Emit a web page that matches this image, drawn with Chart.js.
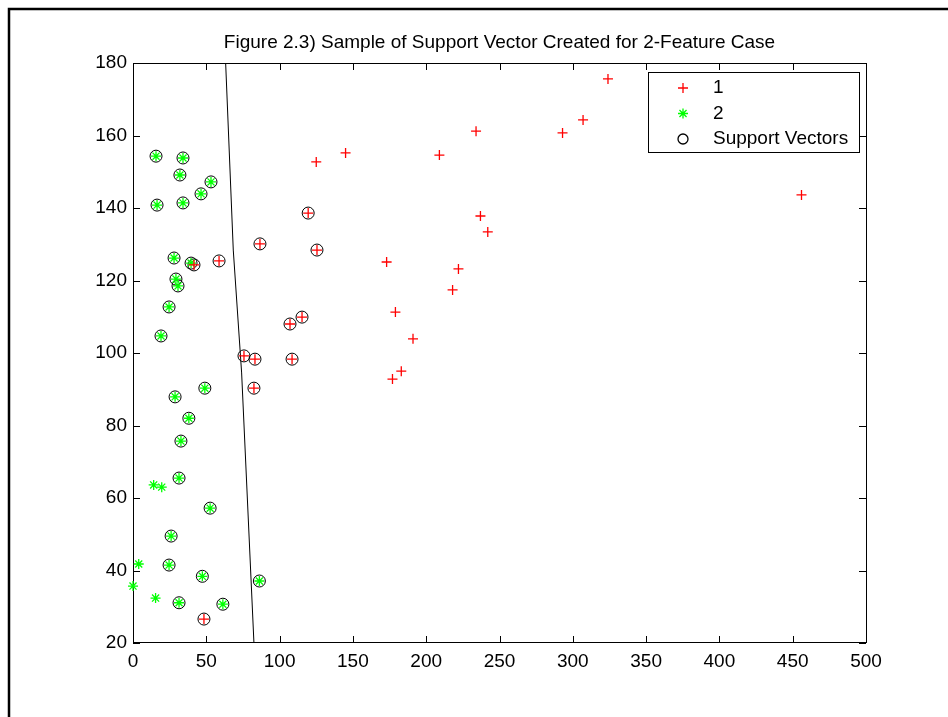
<!DOCTYPE html>
<html>
<head>
<meta charset="utf-8">
<script src="https://cdn.jsdelivr.net/npm/chart.js@4.4.0/dist/chart.umd.min.js"></script>
<style>
  body { margin: 0; background: #fff; }
  canvas { display: block; }
</style>
</head>
<body>
<canvas id="chart" width="948" height="717"></canvas>
<script>
const titleText = "Figure 2.3) Sample of Support Vector Created for 2-Feature Case"
const legendLabels = ["1", "2", "Support Vectors"]

const xTickValues = [0, 50, 100, 150, 200, 250, 300, 350, 400, 450, 500]
const yTickValues = [20, 40, 60, 80, 100, 120, 140, 160, 180]

// class 1 (red +)
const class1X = [324, 307, 293, 456, 234, 145, 125, 209, 237, 242, 173, 222, 218, 179, 191, 183, 177,
  119.5, 125.5, 115.3, 107.1, 108.5, 86.6, 41.6, 58.7, 75.7, 83.2, 82.5, 48.4]
const class1Y = [175.6, 164.3, 160.7, 143.6, 161.2, 155.2, 152.7, 154.6, 137.8, 133.4, 125.1, 123.2, 117.4, 111.3, 103.9, 95, 92.8,
  138.6, 128.4, 109.9, 108, 98.3, 130.1, 124.3, 125.4, 99.2, 98.3, 90.3, 26.6]

// class 2 (green *)
const class2X = [15.7, 34.1, 32, 53.2, 46.4, 16.4, 34.1, 28, 39.6, 29.3, 30.7, 24.6, 19.1, 49, 28.7, 38.1, 32.7,
  31.4, 52.6, 26, 24.6, 47.3, 86.2, 31.4, 61.3, 14.1, 19.6, 3.9, 0, 15.4]
const class2Y = [154.3, 153.8, 149.1, 147.2, 143.9, 140.8, 141.4, 126.2, 124.8, 120.4, 118.5, 112.7, 104.7, 90.3, 87.9, 82, 75.7,
  65.5, 57.2, 49.5, 41.5, 38.4, 37.1, 31.1, 30.7, 63.6, 63, 41.8, 35.7, 32.4]

// support vectors (black circles)
const supportX = [119.5, 125.5, 115.3, 107.1, 108.5, 86.6, 41.6, 58.7, 75.7, 83.2, 82.5, 48.4,
  15.7, 34.1, 32, 53.2, 46.4, 16.4, 34.1, 28, 39.6, 29.3, 30.7, 24.6, 19.1, 49, 28.7, 38.1, 32.7,
  31.4, 52.6, 26, 24.6, 47.3, 86.2, 31.4, 61.3]
const supportY = [138.6, 128.4, 109.9, 108, 98.3, 130.1, 124.3, 125.4, 99.2, 98.3, 90.3, 26.6,
  154.3, 153.8, 149.1, 147.2, 143.9, 140.8, 141.4, 126.2, 124.8, 120.4, 118.5, 112.7, 104.7, 90.3, 87.9, 82, 75.7,
  65.5, 57.2, 49.5, 41.5, 38.4, 37.1, 31.1, 30.7]

// separating boundary
const boundaryX = [63.2, 68.4, 74.1, 82.5]
const boundaryY = [180, 128.4, 94.5, 20]

const FONT = "'Liberation Sans', Arial, sans-serif"

function toPoints(xs, ys) {
  return xs.map((x, i) => ({ x: x, y: ys[i] }))
}

const legendStyles = [
  { pointStyle: "cross", color: "#ff0000" },
  { pointStyle: "star", color: "#00ff00" },
  { pointStyle: "circle", color: "#000000" }
]

const matlabFrame = {
  id: "matlabFrame",
  beforeDraw(chart) {
    const ctx = chart.ctx
    ctx.save()
    ctx.fillStyle = "white"
    ctx.fillRect(0, 0, chart.width, chart.height)
    ctx.strokeStyle = "black"
    ctx.lineWidth = 2.5
    ctx.strokeRect(9, 9, chart.width + 40, chart.height + 40)
    ctx.restore()
  },
  beforeDatasetsDraw(chart) {
    const ctx = chart.ctx
    const a = chart.chartArea
    const xs = chart.scales.x
    const ys = chart.scales.y
    const tick = 7
    ctx.save()
    ctx.strokeStyle = "black"
    ctx.lineWidth = 1
    ctx.beginPath()
    xs.ticks.forEach((t) => {
      const px = Math.round(xs.getPixelForValue(t.value)) + 0.5
      ctx.moveTo(px, a.bottom); ctx.lineTo(px, a.bottom - tick)
      ctx.moveTo(px, a.top); ctx.lineTo(px, a.top + tick)
    })
    ys.ticks.forEach((t) => {
      const py = Math.round(ys.getPixelForValue(t.value)) + 0.5
      ctx.moveTo(a.left, py); ctx.lineTo(a.left + tick, py)
      ctx.moveTo(a.right, py); ctx.lineTo(a.right - tick, py)
    })
    ctx.stroke()
    ctx.strokeRect(a.left + 0.5, a.top + 0.5, a.right - a.left, a.bottom - a.top - 1)
    ctx.restore()
  },
  afterDraw(chart) {
    const ctx = chart.ctx
    const a = chart.chartArea
    ctx.save()
    // title
    ctx.fillStyle = "black"
    ctx.font = "19px " + FONT
    ctx.textAlign = "center"
    ctx.textBaseline = "middle"
    ctx.fillText(titleText, (a.left + a.right) / 2, 43)
    // legend
    const bw = 211, bh = 80
    const bx = a.right - 7 - bw, by = a.top + 9
    ctx.fillStyle = "white"
    ctx.fillRect(bx, by, bw, bh)
    ctx.strokeStyle = "black"
    ctx.lineWidth = 1
    ctx.strokeRect(bx + 0.5, by + 0.5, bw, bh)
    legendLabels.forEach((label, i) => {
      const cy = by + 16 + i * 25.5
      const st = legendStyles[i]
      ctx.strokeStyle = st.color
      ctx.fillStyle = "rgba(0,0,0,0)"
      ctx.lineWidth = 1.3
      Chart.helpers.drawPoint(ctx, { pointStyle: st.pointStyle, radius: 5, borderWidth: 1.3, rotation: 0 }, bx + 35, cy)
      ctx.fillStyle = "black"
      ctx.textAlign = "left"
      ctx.textBaseline = "middle"
      ctx.fillText(label, bx + 65, cy)
    })
    ctx.restore()
  }
}

function chartConfig() {
  const canvas = document.querySelector("#chart")
  const data = {
    datasets: [
      {
        label: legendLabels[0],
        data: toPoints(class1X, class1Y),
        pointStyle: "cross",
        pointRadius: 5,
        borderColor: "#ff0000",
        borderWidth: 1.3,
        backgroundColor: "#ff0000",
        clip: false
      },
      {
        label: legendLabels[1],
        data: toPoints(class2X, class2Y),
        pointStyle: "star",
        pointRadius: 5,
        borderColor: "#00ff00",
        borderWidth: 1.3,
        backgroundColor: "#00ff00",
        clip: false
      },
      {
        label: legendLabels[2],
        data: toPoints(supportX, supportY),
        pointStyle: "circle",
        pointRadius: 6,
        borderColor: "#000000",
        borderWidth: 1,
        backgroundColor: "rgba(0,0,0,0)",
        clip: false
      },
      {
        label: "boundary",
        type: "line",
        data: toPoints(boundaryX, boundaryY),
        showLine: true,
        pointRadius: 0,
        borderColor: "#000000",
        borderWidth: 1,
        fill: false,
        tension: 0
      }
    ]
  }
  const config = {
    type: "scatter",
    data: data,
    options: {
      responsive: false,
      animation: false,
      events: [],
      layout: {
        padding: { left: 20, right: 82, top: 63, bottom: 34 }
      },
      scales: {
        x: {
          type: "linear",
          min: 0,
          max: 500,
          afterBuildTicks: (scale) => { scale.ticks = xTickValues.map((v) => ({ value: v })) },
          afterFit: (scale) => { scale.height = 40 },
          grid: { display: false, drawTicks: false },
          border: { display: false },
          ticks: { color: "black", padding: 7, maxRotation: 0, autoSkip: false, font: { family: FONT, size: 19 } }
        },
        y: {
          type: "linear",
          min: 20,
          max: 180,
          afterBuildTicks: (scale) => { scale.ticks = yTickValues.map((v) => ({ value: v })) },
          afterFit: (scale) => { scale.width = 113 },
          grid: { display: false, drawTicks: false },
          border: { display: false },
          ticks: { color: "black", padding: 6, autoSkip: false, font: { family: FONT, size: 19 } }
        }
      },
      plugins: {
        legend: { display: false },
        title: { display: false },
        tooltip: { enabled: false }
      }
    },
    plugins: [matlabFrame]
  }
  new Chart(canvas, config)
}

document.addEventListener("DOMContentLoaded", () => {
  chartConfig()
})
</script>
</body>
</html>
